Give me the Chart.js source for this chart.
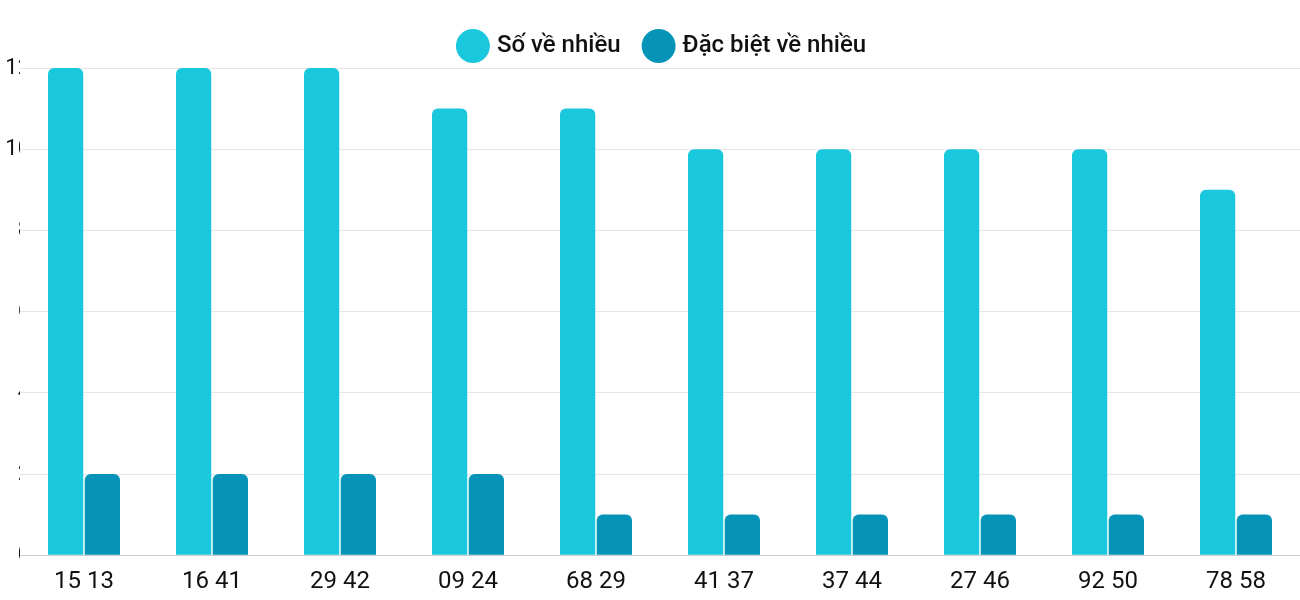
<!DOCTYPE html>
<html><head><meta charset="utf-8">
<script src="https://cdn.jsdelivr.net/npm/chart.js@4"></script>
<style>body{margin:0;background:#fff}#wrap{width:1300px;height:600px}</style>
</head><body><div id="wrap"><canvas id="c"></canvas></div>
<script>
const labels = ["15 13","16 41","29 42","09 24","68 29","41 37","37 44","27 46","92 50","78 58"]
const soVeNhieu = [12,12,12,11,11,10,10,10,10,9]
const dacBiet = [2,2,2,2,1,1,1,1,1,1]

Chart.defaults.font.family = "Roboto"
Chart.defaults.font.size = 22
Chart.defaults.color = "#111"

new Chart(document.getElementById("c"), {
    type: 'bar',
    data: {
        labels: labels,
        datasets: [
            { label: "Số về nhiều", data: soVeNhieu, backgroundColor: "#19c8dc", borderRadius: {topLeft: 6, topRight: 6}, borderSkipped: 'bottom' },
            { label: "Đặc biệt về nhiều", data: dacBiet, backgroundColor: "#0594b8", borderRadius: {topLeft: 6, topRight: 6}, borderSkipped: 'bottom' }
        ]
    },
    options: {
        responsive: true,
        maintainAspectRatio: false,
        animation: false,
        layout: { padding: { top: 8, right: -27, bottom: 0 } },
        datasets: { bar: { barPercentage: 0.96, categoryPercentage: 0.574 } },
        plugins: {
            legend: {
                labels: { usePointStyle: true, pointStyle: 'circle', boxWidth: 28, boxHeight: 28, padding: 26, color: '#111', font: { size: 24, weight: '500' } }
            },
            tooltip: { enabled: false }
        },
        scales: {
            x: { grid: { display: false }, border: { color: '#ccc' }, ticks: { color: '#111', font: { size: 24 }, padding: 4 } },
            y: {
                min: 0, max: 12,
                ticks: { stepSize: 2, color: '#111', padding: -10 },
                grid: { color: '#e6e6e6', drawTicks: false },
                border: { display: false },
                afterFit: function(s) { s.width = 20 }
            }
        }
    }
})
</script></body></html>
